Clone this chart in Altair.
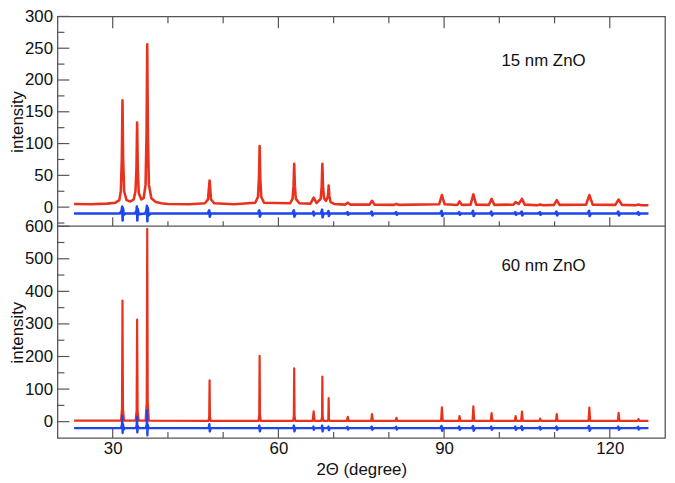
import altair as alt
import pandas as pd

FONT = "Liberation Sans"
RED = "#e8321e"
BLUE = "#1e46f0"
FRAME = "#555555"

# ---------------- data ----------------
# 15 nm ZnO : observed/calculated pattern (red)
x15_red = [23.0, 26.0, 29.0, 30.5, 31.2, 31.47, 31.65, 31.77, 31.89, 32.07, 32.5, 33.2, 33.8, 34.12, 34.3,
           34.42, 34.54, 34.72, 35.2, 35.6, 35.95, 36.13, 36.25, 36.37, 36.55, 37.0, 37.8, 38.8, 40.0, 44.0,
           46.7, 47.25, 47.54, 47.8, 48.4, 52.0, 55.8, 56.3, 56.48, 56.6, 56.72, 56.9, 57.4, 62.1, 62.56,
           62.74, 62.86, 62.98, 63.16, 63.8, 65.8, 66.38, 66.9, 67.66, 67.84, 67.96, 68.08, 68.26, 68.6,
           68.85, 68.98, 69.1, 69.22, 69.45, 70.1, 72.1, 72.56, 73.0, 76.5, 76.95, 77.4, 80.9, 81.37,
           81.8, 89.1, 89.6, 90.1, 92.4, 92.8, 93.2, 94.8, 95.3, 95.8, 98.1, 98.6, 99.1, 102.55, 102.95,
           103.5, 104.1, 104.6, 106.9, 107.4, 107.9, 109.9, 110.4, 110.9, 115.7, 116.3, 116.9, 121.0, 121.6,
           122.2, 124.7, 125.2, 125.7, 127.0]
y15_red = [5, 4.5, 5.5, 7, 11, 25, 75, 168, 75, 25, 11, 9, 12, 25, 60,
           133, 60, 22, 12, 14, 35, 115, 256, 115, 35, 14, 8, 6, 5, 4.5,
           6, 12, 42, 12, 6, 4.5, 7, 16, 45, 96, 45, 16, 7, 6, 13,
           33, 68, 33, 13, 6, 5.5, 15, 6.5, 13, 33, 68, 33, 14, 10,
           14, 18, 34, 18, 8, 5, 4, 7, 4, 4, 10, 4, 3.5, 5,
           3.5, 4.5, 19, 4.5, 3.5, 9, 3.5, 4, 20, 4, 3.5, 13, 3.5, 4, 8,
           5, 13, 4, 3, 4, 3, 3.5, 11, 3.5, 4, 19, 4, 3.5, 12,
           3.5, 3, 4, 3, 3]

# 15 nm ZnO : difference curve (blue)
x15_blue = [23.0, 31.3, 31.6, 31.72, 31.8, 31.88, 32.0, 32.3, 34.0, 34.3, 34.38, 34.46, 34.54, 34.7,
            35.9, 36.1, 36.2, 36.28, 36.36, 36.5, 36.9, 47.2, 47.48, 47.58, 47.75, 56.3, 56.55, 56.65, 56.85,
            62.55, 62.8, 62.9, 63.1, 66.2, 66.35, 66.42, 66.6, 67.7, 67.92, 68.0, 68.2, 68.9, 69.06, 69.14, 69.35,
            72.26, 72.51, 72.61, 72.86, 76.65, 76.9, 77.0, 77.25, 81.07, 81.32, 81.42, 81.67,
            89.3, 89.55, 89.65, 89.9, 92.5, 92.75, 92.85, 93.1, 95.0, 95.25, 95.35, 95.6,
            98.3, 98.55, 98.65, 98.9, 102.65, 102.9, 103.0, 103.25, 103.8, 104.05, 104.15, 104.4,
            107.1, 107.35, 107.45, 107.7, 110.1, 110.35, 110.45, 110.7, 116.0, 116.25, 116.35, 116.6,
            121.3, 121.55, 121.65, 121.9, 124.9, 125.15, 125.25, 125.5, 127.0]
y15_blue = [-10, -10, -6, 1, -21, -2, -12, -10, -10, -6, 1, -21, -3, -11,
            -10, -5, 2, -22, -1, -13, -10, -10, -5, -15, -10, -10, -5, -15, -10,
            -10, -5, -15, -10, -10, -7, -13, -10, -10, -4, -16, -10, -10, -6, -14, -10,
            -10, -8, -12, -10, -10, -7, -13, -10, -10, -8, -12, -10,
            -10, -6, -14, -10, -10, -8, -12, -10, -10, -6, -14, -10,
            -10, -7, -13, -10, -10, -8, -12, -10, -10, -7, -13, -10,
            -10, -8, -12, -10, -10, -7, -13, -10, -10, -6, -14, -10,
            -10, -7, -13, -10, -10, -8, -12, -10, -10]

# 60 nm ZnO : observed/calculated pattern (red)
x60_red = [23.0, 31.5, 31.68, 31.77, 31.86, 32.05, 34.15, 34.33, 34.42, 34.51, 34.7, 35.95, 36.16, 36.25,
           36.34, 36.55, 47.35, 47.47, 47.54, 47.61, 47.75, 56.4, 56.53, 56.6, 56.67, 56.8, 62.66, 62.79,
           62.86, 62.93, 63.06, 66.2, 66.38, 66.56, 67.78, 67.9, 67.96, 68.02, 68.15, 68.93, 69.04, 69.1,
           69.16, 69.28, 72.4, 72.56, 72.72, 76.8, 76.95, 77.1, 81.22, 81.37, 81.52, 89.45, 89.6, 89.75,
           92.65, 92.8, 92.95, 95.15, 95.3, 95.45, 98.45, 98.6, 98.75, 102.8, 102.95, 103.1, 103.95, 104.1,
           104.25, 107.25, 107.4, 107.55, 110.25, 110.4, 110.55, 116.15, 116.3, 116.45, 121.45, 121.6,
           121.75, 125.05, 125.2, 125.35, 127.0]
y60_red = [3, 3, 40, 372, 40, 3, 3, 35, 313, 35, 3, 3, 60, 592,
           60, 3, 2.5, 15, 127, 15, 2.5, 2.5, 22, 202, 22, 2.5, 2.5, 18,
           164, 18, 2.5, 2.5, 32, 2.5, 2.5, 15, 138, 15, 2.5, 2.5, 8, 72,
           8, 2.5, 2.5, 15, 2.5, 2.5, 23, 2.5, 2.5, 12, 2.5, 2.5, 44, 2.5,
           2.5, 17, 2.5, 2.5, 47, 2.5, 2.5, 26, 2.5, 2.5, 17, 2.5, 2.5, 31,
           2.5, 2.5, 9, 2.5, 2.5, 23, 2.5, 2.5, 43, 2.5, 2.5, 27,
           2.5, 2.5, 8, 2.5, 2.5]

# 60 nm ZnO : difference curve (blue)
x60_blue = [23.0, 31.5, 31.68, 31.73, 31.8, 31.86, 32.0, 32.2, 34.2, 34.35, 34.4, 34.46, 34.52, 34.7,
            36.0, 36.17, 36.22, 36.28, 36.34, 36.5, 47.35, 47.5, 47.58, 47.75, 56.4, 56.56, 56.64, 56.8,
            62.66, 62.82, 62.9, 63.06, 66.25, 66.35, 66.41, 66.5, 67.8, 67.92, 68.0, 68.15,
            68.95, 69.06, 69.14, 69.3, 72.26, 72.51, 72.61, 72.86, 76.65, 76.9, 77.0, 77.25,
            81.07, 81.32, 81.42, 81.67, 89.3, 89.55, 89.65, 89.9, 92.5, 92.75, 92.85, 93.1,
            95.0, 95.25, 95.35, 95.6, 98.3, 98.55, 98.65, 98.9, 102.65, 102.9, 103.0, 103.25,
            103.8, 104.05, 104.15, 104.4, 107.1, 107.35, 107.45, 107.7, 110.1, 110.35, 110.45, 110.7,
            116.0, 116.25, 116.35, 116.6, 121.3, 121.55, 121.65, 121.9, 124.9, 125.15, 125.25, 125.5, 127.0]
y60_blue = [-20, -20, -10, 18, -35, -8, -24, -20, -20, -10, 15, -33, -12, -20,
            -20, -8, 35, -42, -10, -20, -20, -8, -30, -20, -20, -12, -30, -20,
            -20, -12, -30, -20, -20, -15, -25, -20, -20, -12, -30, -20,
            -20, -15, -26, -20, -20, -16, -24, -20, -20, -15, -25, -20,
            -20, -16, -24, -20, -20, -13, -28, -20, -20, -15, -25, -20,
            -20, -13, -28, -20, -20, -15, -25, -20, -20, -15, -25, -20,
            -20, -14, -26, -20, -20, -16, -24, -20, -20, -15, -25, -20,
            -20, -13, -28, -20, -20, -15, -25, -20, -20, -16, -24, -20, -20]

# axes / ticks / labels
x_labels = [30, 60, 90, 120]
x_minor = [40, 50, 70, 80, 100, 110]
top_labels = [0, 50, 100, 150, 200, 250, 300]
top_minor = [-25, 25, 75, 125, 175, 225, 275]
bot_labels = [0, 100, 200, 300, 400, 500, 600]
bot_minor = [50, 150, 250, 350, 450, 550]
panel_names = ["15 nm ZnO", "60 nm ZnO"]
panel_text_x = [108, 108]
panel_text_y = [230, 478]

# ---------------- layout ----------------
W = 614
H1 = 212
H2 = 214
H = H1 + H2

SC_X = alt.Scale(domain=[20, 130], nice=False, zero=False)
AX_X = alt.Axis(values=x_labels, title="2Θ (degree)", ticks=False, domain=False, grid=False,
                labelFontSize=17, labelPadding=3, labelFont=FONT, labelColor="#111",
                titleFontSize=17, titleFontWeight="normal", titleFont=FONT, titleColor="#111",
                titleY=24, titleBaseline="top", labelFlush=False)

SC_TOP = alt.Scale(domain=[-30, 300], range=[H1, 0], nice=False, zero=False)
SC_BOT = alt.Scale(domain=[-50, 600], range=[H, H1], nice=False, zero=False)


def yaxis(vals):
    return alt.Axis(values=vals, title="intensity", orient="left", ticks=False, domain=False, grid=False,
                    labelFontSize=17, labelPadding=5, labelFont=FONT, labelColor="#111",
                    titleFontSize=17, titleFontWeight="normal", titleFont=FONT, titleColor="#111",
                    titleX=-31)


AX_TOP = yaxis(top_labels)
AX_BOT = yaxis(bot_labels)


def X(f):
    return alt.X(f, type="quantitative", scale=SC_X, axis=AX_X)


def YT(f):
    return alt.Y(f, type="quantitative", scale=SC_TOP, axis=AX_TOP)


def YB(f):
    return alt.Y(f, type="quantitative", scale=SC_BOT, axis=AX_BOT)


df15r = pd.DataFrame({"x": x15_red, "y": y15_red})
df15b = pd.DataFrame({"x": x15_blue, "y": y15_blue})
df60r = pd.DataFrame({"x": x60_red, "y": y60_red})
df60b = pd.DataFrame({"x": x60_blue, "y": y60_blue})

red15 = alt.Chart(df15r).mark_line(color=RED, strokeWidth=2.6, strokeJoin="round").encode(x=X("x"), y=YT("y"))
blue15 = alt.Chart(df15b).mark_line(color=BLUE, strokeWidth=2.6, strokeJoin="round").encode(x=X("x"), y=YT("y"))
red60 = alt.Chart(df60r).mark_line(color=RED, strokeWidth=2.2, strokeJoin="round").encode(x=X("x"), y=YB("y"))
blue60 = alt.Chart(df60b).mark_line(color=BLUE, strokeWidth=2.4, strokeJoin="round").encode(x=X("x"), y=YB("y"))

txt_top = alt.Chart(pd.DataFrame({"x": [panel_text_x[0]], "y": [panel_text_y[0]], "t": [panel_names[0]]})).mark_text(
    font=FONT, fontSize=17, color="#111", align="center", baseline="middle").encode(x=X("x"), y=YT("y"), text="t:N")
txt_bot = alt.Chart(pd.DataFrame({"x": [panel_text_x[1]], "y": [panel_text_y[1]], "t": [panel_names[1]]})).mark_text(
    font=FONT, fontSize=17, color="#111", align="center", baseline="middle").encode(x=X("x"), y=YB("y"), text="t:N")

TICK = dict(color=FRAME, strokeWidth=1.2)

dxM = pd.DataFrame({"t": x_labels})
dxm = pd.DataFrame({"t": x_minor})

xt = [
    alt.Chart(dxM).mark_rule(**TICK).encode(x=X("t"), y=alt.value(0), y2=alt.value(12)),
    alt.Chart(dxm).mark_rule(**TICK).encode(x=X("t"), y=alt.value(0), y2=alt.value(7)),
    alt.Chart(dxM).mark_rule(**TICK).encode(x=X("t"), y=alt.value(H1), y2=alt.value(H1 - 9)),
    alt.Chart(dxm).mark_rule(**TICK).encode(x=X("t"), y=alt.value(H1), y2=alt.value(H1 - 5)),
    alt.Chart(dxM).mark_rule(**TICK).encode(x=X("t"), y=alt.value(H), y2=alt.value(H - 11)),
    alt.Chart(dxm).mark_rule(**TICK).encode(x=X("t"), y=alt.value(H), y2=alt.value(H - 6)),
]

divider = alt.Chart(pd.DataFrame({"d": [0]})).mark_rule(color=FRAME, strokeWidth=1.3).encode(
    x=alt.value(0), x2=alt.value(W), y=alt.value(H1))

yt_top = [
    alt.Chart(pd.DataFrame({"v": top_labels})).mark_rule(**TICK).encode(y=YT("v"), x=alt.value(0), x2=alt.value(12)),
    alt.Chart(pd.DataFrame({"v": top_minor})).mark_rule(**TICK).encode(y=YT("v"), x=alt.value(0), x2=alt.value(7)),
]
yt_bot = [
    alt.Chart(pd.DataFrame({"v": bot_labels})).mark_rule(**TICK).encode(y=YB("v"), x=alt.value(0), x2=alt.value(12)),
    alt.Chart(pd.DataFrame({"v": bot_minor})).mark_rule(**TICK).encode(y=YB("v"), x=alt.value(0), x2=alt.value(7)),
]

top = alt.layer(red15, blue15, txt_top, *yt_top, *xt, divider)
bot = alt.layer(red60, blue60, txt_bot, *yt_bot)

chart = alt.layer(top, bot).resolve_scale(y="independent").properties(
    width=W, height=H,
    autosize=alt.AutoSizeParams(type="none"),
    padding={"left": 50, "top": 6, "right": 2, "bottom": 43},
).configure_view(stroke=FRAME, strokeWidth=1.3)

chart.save("out.html", embed_options={"renderer": "svg", "actions": False})
